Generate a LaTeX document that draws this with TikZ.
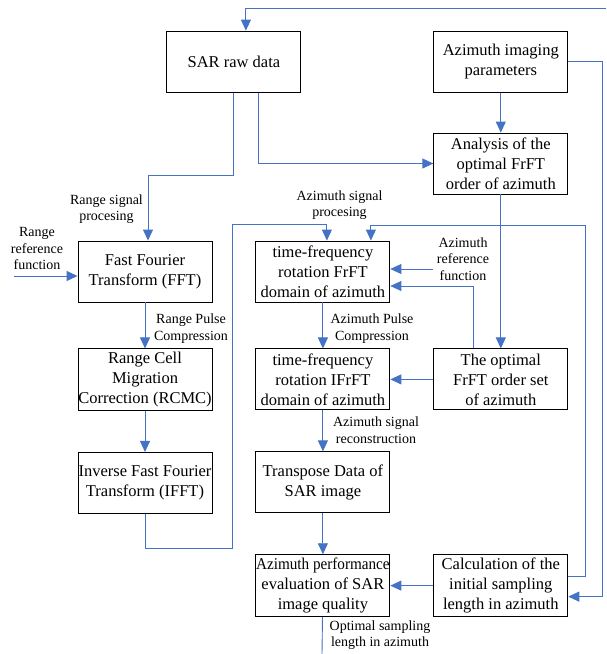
\documentclass[tikz,border=0pt]{standalone}
\usepackage{fontspec}
\setmainfont{Liberation Serif}
\usetikzlibrary{positioning,arrows.meta}
\definecolor{flowblue}{RGB}{68,114,196}
\tikzset{
  proc box/.style={
    rectangle,
    draw=black,
    line width=0.9pt,
    minimum width=134pt,
    minimum height=61pt,
    inner xsep=0pt,
    align=center,
    font=\fontsize{16.5}{20}\selectfont
  },
  flow/.style={
    -{Triangle[length=11pt,width=10pt]},
    draw=flowblue,
    line width=0.9pt
  },
  wire/.style={
    draw=flowblue,
    line width=0.9pt
  },
  tag/.style={
    align=center,
    inner sep=0pt,
    font=\fontsize{14}{16.5}\selectfont
  }
}

\begin{document}
\begin{tikzpicture}[x=1pt, y=-1pt, node distance=46pt and 43pt]
  \useasboundingbox (0,0) rectangle (606,654);

  % Range branch
  \node[proc box] (fft) at (145,271.5) {Fast Fourier\\Transform (FFT)};
  \node[proc box, below=of fft] (rcmc) {Range Cell\\Migration\\Correction (RCMC)};
  \node[proc box, below=41pt of rcmc] (ifft) {Inverse Fast Fourier\\Transform (IFFT)};

  % Azimuth branch
  \node[proc box, right=of fft] (frft) {time-frequency\\rotation FrFT\\domain of azimuth};
  \node[proc box, below=of frft] (ifrft) {time-frequency\\rotation IFrFT\\domain of azimuth};
  \node[proc box, below=41pt of ifrft] (transp) {Transpose Data of\\SAR image};
  \node[proc box, below=41pt of transp] (perf) {\scalebox{0.92}[1]{Azimuth performance}\\evaluation of SAR\\image quality};

  % Order and sampling length
  \node[proc box, right=of ifrft] (optset) {The optimal\\FrFT order set\\of azimuth};
  \node[proc box, right=of perf] (calc) {Calculation of the\\initial sampling\\length in azimuth};
  \node[proc box, above=154pt of optset] (analysis) {Analysis of the\\optimal FrFT\\order of azimuth};
  \node[proc box, above=40pt of analysis] (aziparam) {Azimuth imaging\\parameters};
  \node[proc box, left=132pt of aziparam] (sar) {SAR raw data};

  % Free ends
  \coordinate (topin) at (606,8);
  \coordinate (rrin) at (14,276);
  \coordinate (arin) at (433,269);
  \coordinate (outbot) at (322,654);

  % Labels
  \node[tag] (rsp) at (106.5,209) {Range signal\\procesing};
  \node[tag] (rrf) at (37,248.5) {Range\\reference\\function};
  \node[tag] (rpc) at (191,328.5) {Range Pulse\\Compression};
  \node[tag] (asp) at (339.5,205) {Azimuth signal\\procesing};
  \node[tag] (arf) at (463,259) {Azimuth\\reference\\function};
  \node[tag] (apc) at (372,328.5) {Azimuth Pulse\\Compression};
  \node[tag] (asr) at (376,430) {Azimuth signal\\reconstruction};
  \node[tag] (osl) at (380,635) {Optimal sampling\\length in azimuth};

  % Top part
  \draw[flow] (topin) -| ([xshift=12pt]sar.north);
  \draw[flow] (sar.south) -- ++(0,83) -| ([xshift=3pt]fft.north);
  \draw[flow] ([xshift=25pt]sar.south) |- (analysis.west);
  \draw[flow] (aziparam) -- (analysis);
  \draw[flow] (aziparam.east) -- ++(34,0) |- ([yshift=-11pt]calc.east);
  \draw[flow] (analysis) -- (optset);

  % Range processing
  \draw[flow] (rrin) -- (rrin -| fft.west);
  \draw[flow] (fft) -- (rcmc);
  \draw[flow] (rcmc) -- (ifft);
  \draw[flow] (ifft.south) -- ++(0,35) -| ++(87,-324) -| ([xshift=4pt]frft.north);

  % Azimuth processing
  \draw[flow] (arin) -- (arin -| frft.east);
  \draw[flow] ([xshift=-27pt]optset.north) |- ([yshift=-14.5pt]frft.east);
  \draw[flow] (frft) -- (ifrft);
  \draw[flow] (optset) -- (ifrft);
  \draw[flow] (ifrft) -- (transp);
  \draw[flow] (transp) -- (perf);
  \draw[flow] (calc) -- (perf);
  \draw[flow] ([yshift=9pt]calc.east) -| ++(17,-351) -| ([xshift=48pt]frft.north);
  \draw[wire] (perf) -- (outbot);

\end{tikzpicture}
\end{document}
